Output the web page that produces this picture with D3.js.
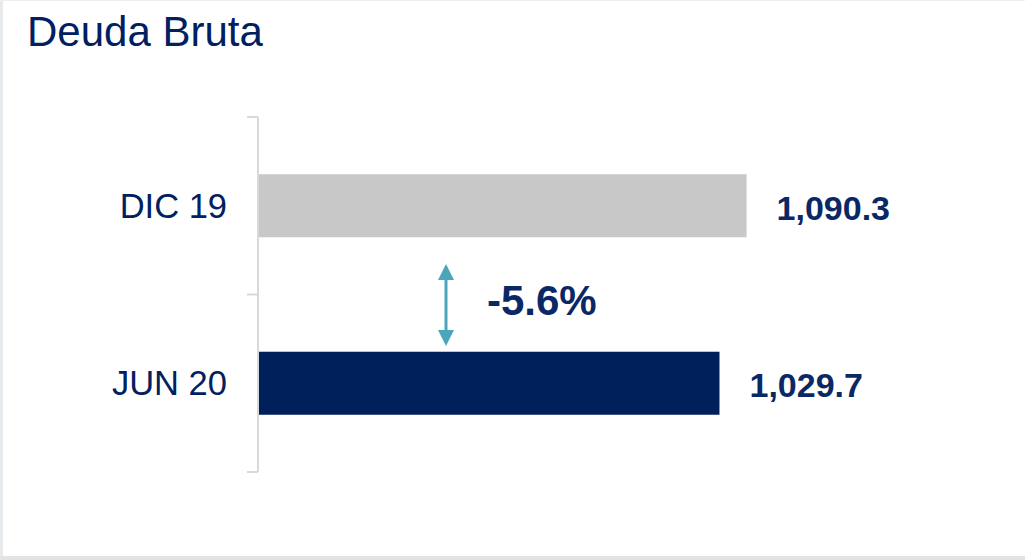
<!DOCTYPE html>
<html>
<head>
<meta charset="utf-8">
<script src="https://cdn.jsdelivr.net/npm/d3@7"></script>
<style>
  html, body { margin: 0; padding: 0; background: #fff; }
  svg { display: block; font-family: "Liberation Sans", Arial, sans-serif; }
</style>
</head>
<body>
<svg id="chart" width="1025" height="560"></svg>
<script>
const title = "Deuda Bruta";
const categories = ["DIC 19", "JUN 20"];
const values = [1090.3, 1029.7];
const barColors = ["#c8c8c8", "#00205b"];
const changeLabel = "-5.6%";

const W = 1025, H = 560;
const svg = d3.select("#chart");

// frame
svg.append("rect").attr("x", 0).attr("y", 0).attr("width", W).attr("height", H).attr("fill", "#fff");
svg.append("rect").attr("x", 0).attr("y", 0).attr("width", 3).attr("height", H).attr("fill", "#e7eaec");
svg.append("rect").attr("x", 0).attr("y", 0).attr("width", W).attr("height", 1).attr("fill", "#eeeeee");
svg.append("rect").attr("x", 0).attr("y", 556).attr("width", W).attr("height", 4).attr("fill", "#e3e3e3");

svg.append("text")
  .attr("x", 27).attr("y", 46)
  .attr("font-size", 42)
  .attr("fill", "#002060")
  .text(title);

const x0 = 259;
const x = d3.scaleLinear().domain([0, 1250]).range([x0, x0 + 559]);
const y = d3.scaleBand().domain(categories).range([117, 472]).paddingInner(0.645).paddingOuter(0.3225);

// axis
const axisG = svg.append("g").attr("transform", `translate(${x0 - 1},0)`);
axisG.append("line").attr("x1", 0).attr("x2", 0).attr("y1", 117).attr("y2", 472)
  .attr("stroke", "#d9d9d9").attr("stroke-width", 2);
const step = y.step();
const tickYs = [117, 117 + step, 472];
axisG.selectAll("line.tick").data(tickYs).enter().append("line")
  .attr("class", "tick")
  .attr("x1", -11).attr("x2", 0)
  .attr("y1", d => d).attr("y2", d => d)
  .attr("stroke", "#d9d9d9").attr("stroke-width", 2);

const data = categories.map((c, i) => ({ c, v: values[i], color: barColors[i] }));

svg.selectAll("rect.bar").data(data).enter().append("rect")
  .attr("class", "bar")
  .attr("x", x(0))
  .attr("y", d => y(d.c))
  .attr("width", d => x(d.v) - x(0))
  .attr("height", y.bandwidth())
  .attr("fill", d => d.color);

svg.selectAll("text.cat").data(data).enter().append("text")
  .attr("class", "cat")
  .attr("x", 227)
  .attr("y", d => y(d.c) + y.bandwidth() / 2 + 12)
  .attr("text-anchor", "end")
  .attr("font-size", 34.5)
  .attr("fill", "#002060")
  .text(d => d.c);

const fmt = d3.format(",.1f");
svg.selectAll("text.val").data(data).enter().append("text")
  .attr("class", "val")
  .attr("x", d => x(d.v) + 30)
  .attr("y", d => y(d.c) + y.bandwidth() / 2 + 14)
  .attr("font-size", 34)
  .attr("font-weight", "bold")
  .attr("fill", "#0b2866")
  .text(d => fmt(d.v));

// change arrow
const ax = 446;
const yTop = 264, yBot = 346;
const arrowColor = "#4aa7bb";
svg.append("line").attr("x1", ax).attr("x2", ax).attr("y1", yTop + 10).attr("y2", yBot - 10)
  .attr("stroke", arrowColor).attr("stroke-width", 3);
svg.append("path").attr("d", `M${ax},${yTop} L${ax - 8},${yTop + 16} L${ax + 8},${yTop + 16} Z`).attr("fill", arrowColor);
svg.append("path").attr("d", `M${ax},${yBot} L${ax - 8},${yBot - 16} L${ax + 8},${yBot - 16} Z`).attr("fill", arrowColor);

svg.append("text")
  .attr("x", 487).attr("y", 315)
  .attr("font-size", 42)
  .attr("font-weight", "bold")
  .attr("fill", "#0b2866")
  .text(changeLabel);
</script>
</body>
</html>
